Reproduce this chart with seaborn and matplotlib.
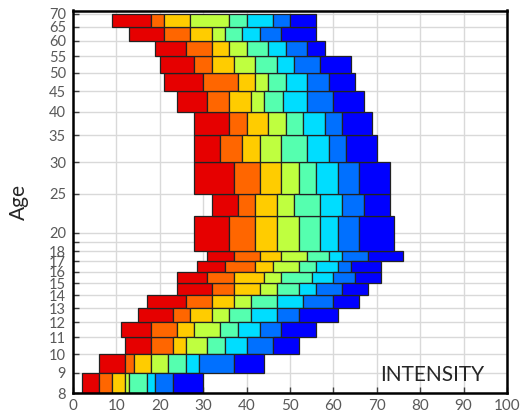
import matplotlib
matplotlib.use("Agg")
import matplotlib.pyplot as plt
from matplotlib.ticker import NullLocator
import seaborn as sns

# --------------------
# Data (age bands, bottom to top; cumulative segment ends)
# --------------------

age_edges = [8, 9, 10, 11, 12, 13, 14, 15, 16, 17, 18, 22, 25, 30, 35, 40, 45, 50, 55, 60, 65, 70]

start = [2, 6, 12, 11, 15, 17, 24, 24, 28.5, 31, 28, 32, 28, 28, 28, 24, 21, 20, 19, 13, 9]
red = [6, 12, 18, 18, 23, 26, 32, 31, 35, 37, 36, 38, 37, 34, 36, 31, 30, 28, 26, 21, 18]
orange = [9, 14, 23, 24, 27, 32, 37, 37, 42, 43, 42, 42, 43, 39, 40, 36, 38, 32, 32, 27, 21]
gold = [12, 18, 26, 28, 32, 37, 43, 44, 46, 48, 47, 47, 48, 43, 45, 41, 42, 37, 36, 32, 27]
lime = [13, 22, 31, 34, 36, 41, 47, 48, 52, 54, 52, 51, 52, 48, 49, 44, 45, 42, 40, 35, 36]
aqua = [17, 26, 35, 38, 41, 47, 52, 55, 56, 59, 57, 57, 56, 54, 53, 48.5, 49, 47, 45, 39, 40]
cyan = [19, 29, 40, 43, 47, 53, 56, 60, 61, 62, 61, 62, 61, 59, 58, 54, 54, 51, 49, 43, 46]
azure = [23, 37, 46, 48, 52, 60, 62, 65, 64, 68, 66, 67, 66, 63, 62, 60, 59, 57, 54, 48, 50]
blue = [30, 44, 52, 56, 61, 66, 68, 71, 71, 76, 74, 73, 73, 70, 69, 67, 65, 64, 58, 56, 56]

seg_colors = ['#E60000', '#FF6600', '#FFCC00', '#BFFF3F', '#55FFAF', '#00DDFF', '#0070FF', '#0000FF']

y_ticks = [8, 9, 10, 11, 12, 13, 14, 15, 16, 17, 18, 19, 20, 25, 30, 35, 40, 45, 50, 55, 60, 65, 70]
y_labels = ['8', '9', '10', '11', '12', '13', '14', '15', '16', '17', '18', '', '20',
            '25', '30', '35', '40', '45', '50', '55', '60', '65', '70']
x_ticks = [0, 10, 20, 30, 40, 50, 60, 70, 80, 90, 100]

# --------------------
# Plot
# --------------------

sns.set_theme(style="whitegrid")
plt.rcParams['font.family'] = ['Lato', 'DejaVu Sans']

fig, ax = plt.subplots(figsize=(5.21, 4.2), dpi=100)
fig.subplots_adjust(left=0.140, right=0.973, top=0.975, bottom=0.064)

lows = age_edges[:-1]
heights = [hi - lo for lo, hi in zip(age_edges[:-1], age_edges[1:])]

left = start
for seg, col in zip([red, orange, gold, lime, aqua, cyan, azure, blue], seg_colors):
    widths = [e - s for e, s in zip(seg, left)]
    ax.barh(lows, widths, height=heights, left=left, align='edge',
            color=col, edgecolor='#222222', linewidth=0.9)
    left = seg

ax.set_yscale('log')
ax.set_ylim(8, 71.4)
ax.set_xlim(0, 100)
ax.set_yticks(y_ticks)
ax.set_yticklabels(y_labels)
ax.yaxis.set_minor_locator(NullLocator())
ax.set_xticks(x_ticks)

ax.grid(True, color='#d9d9d9', linewidth=1)
ax.set_axisbelow(True)
for sp in ax.spines.values():
    sp.set_color('black')
    sp.set_linewidth(1.8)

ax.tick_params(axis='both', direction='in', length=4, width=1, color='#404040',
               labelsize=11, labelcolor='#595959', bottom=True, left=True, pad=4)
ax.tick_params(axis='y', labelsize=10.5, pad=5)
ax.set_ylabel('Age', fontsize=15, color='#262626', labelpad=14)
ax.set_xlabel('')

ax.text(0.827, 0.047, 'INTENSITY', transform=ax.transAxes, ha='center', va='center',
        fontsize=15, color='#262626')

plt.savefig('out.png', dpi=100)
